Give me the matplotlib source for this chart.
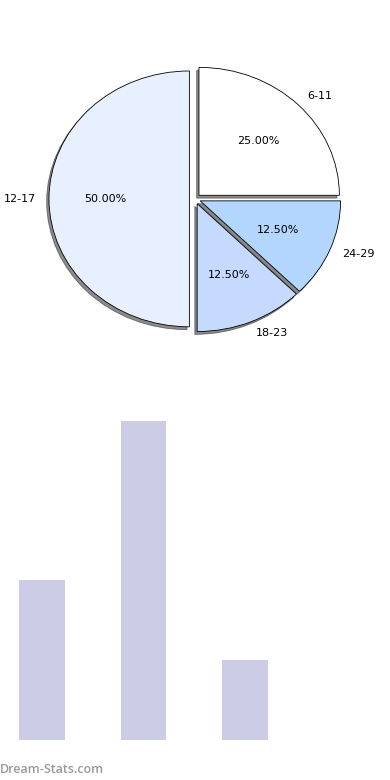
import matplotlib
matplotlib.use("Agg")
import matplotlib.pyplot as plt

# данные для круговой диаграммы
labels = ["6-11", "24-29", "18-23", "12-17"]
shares = [2, 1, 1, 4]
colors = ["#ffffff", "#b3d6ff", "#c6d9ff", "#e8f0ff"]

# данные для столбцов
bar_x = [0, 1, 2, 3]
bar_values = [2, 4, 1, 0]

fig = plt.figure(figsize=(3.9, 7.8), dpi=100)

# круговая диаграмма
ax1 = fig.add_axes([0.05, 0.54, 0.9, 0.41])
ax1.pie(shares, labels=labels, colors=colors, autopct="%.2f%%",
        startangle=90, counterclock=False, labeldistance=1.095,
        shadow={"ox": -0.012, "oy": -0.016, "shade": 0.9},
        explode=[0.04] * len(shares),
        wedgeprops={"edgecolor": "black", "linewidth": 0.6},
        textprops={"fontsize": 8})
ax1.set_aspect("auto")
ax1.set_xlim(-1.25, 1.25)
ax1.set_ylim(-1.25, 1.25)

# столбчатая диаграмма
ax2 = fig.add_axes([0.0, 0.0513, 1.0, 0.409])
ax2.bar(bar_x, bar_values, width=0.45, color="#ccccE6")
ax2.set_xlim(-0.414, 3.43)
ax2.set_ylim(0, 4)
ax2.axis("off")

# водяной знак
fig.text(0.0, 0.005, "Dream-Stats.com", fontsize=9, fontweight="semibold",
         family=["Open Sans", "DejaVu Sans"],
         color="#999999", ha="left", va="bottom")

fig.savefig("out.png", dpi=100)
